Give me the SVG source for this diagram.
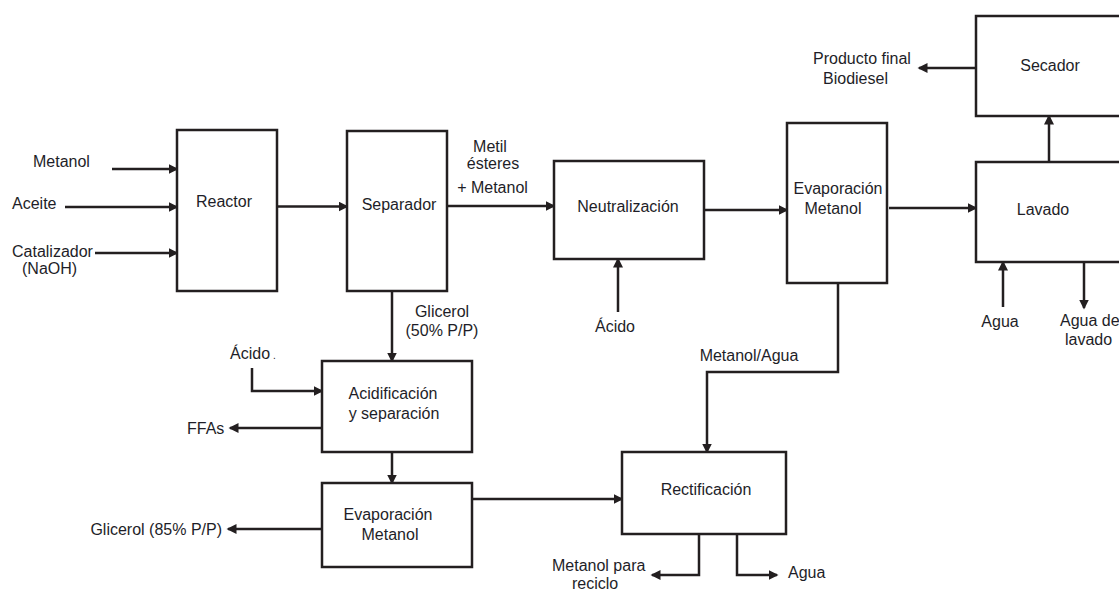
<svg xmlns="http://www.w3.org/2000/svg" width="1119" height="592" viewBox="0 0 1119 592">
<defs>
<style>
.box{fill:#fff;stroke:#231f20;stroke-width:2.5}
.ln{fill:none;stroke:#231f20;stroke-width:2.5;marker-end:url(#ah)}
text{font-family:"Liberation Sans",Arial,sans-serif;font-size:16px;fill:#1e1e28}
.c{text-anchor:middle}
.e{text-anchor:end}
</style>
<marker id="ah" markerUnits="userSpaceOnUse" markerWidth="12" markerHeight="12" refX="8.5" refY="5" orient="auto">
<path d="M0,0 L10,5 L0,10 z" fill="#231f20"/>
</marker>
</defs>
<rect width="1119" height="592" fill="#fff"/>
<g id="connectors">
<path class="ln" d="M112,169 H177"/>
<path class="ln" d="M65,207 H177"/>
<path class="ln" d="M95,253 H177"/>
<path class="ln" d="M277,206.5 H347"/>
<path class="ln" d="M447,206 H554"/>
<path class="ln" d="M392,291 V361"/>
<path class="ln" d="M704,210 H787"/>
<path class="ln" d="M618,312 V259"/>
<path class="ln" d="M889,208 H976"/>
<path class="ln" d="M1049,162 V116"/>
<path class="ln" d="M976,68 H919"/>
<path class="ln" d="M1003,307 V262"/>
<path class="ln" d="M1084,262 V308"/>
<path class="ln" d="M838,283 V372 H707 V452"/>
<path class="ln" d="M252,368 V391 H322"/>
<path class="ln" d="M322,428 H230"/>
<path class="ln" d="M392,452 V483"/>
<path class="ln" d="M322,529 H228"/>
<path class="ln" d="M472,499 H622"/>
<path class="ln" d="M699,534 V575 H652"/>
<path class="ln" d="M737,534 V575 H777"/>
</g>
<g id="reactor">
<rect class="box" x="177" y="130" width="100" height="161"/>
<text class="c" x="224" y="207">Reactor</text>
</g>
<g id="separador">
<rect class="box" x="347" y="131" width="100" height="160"/>
<text class="c" x="399" y="210">Separador</text>
</g>
<g id="neutralizacion">
<rect class="box" x="554" y="161" width="150" height="98"/>
<text class="c" x="628" y="211.5">Neutralización</text>
</g>
<g id="evaporacion1">
<rect class="box" x="787" y="123" width="100" height="160"/>
<text class="c" x="838" y="194">Evaporación</text>
<text class="c" x="833" y="213.5">Metanol</text>
</g>
<g id="lavado">
<rect class="box" x="976" y="162" width="200" height="100"/>
<text class="c" x="1043" y="215">Lavado</text>
</g>
<g id="secador">
<rect class="box" x="976" y="16" width="200" height="100"/>
<text class="c" x="1050" y="70.5">Secador</text>
</g>
<g id="acidificacion">
<rect class="box" x="322" y="361" width="150" height="91"/>
<text class="c" x="393" y="399">Acidificación</text>
<text class="c" x="394" y="419">y separación</text>
</g>
<g id="evaporacion2">
<rect class="box" x="322" y="483" width="150" height="84"/>
<text class="c" x="388" y="520">Evaporación</text>
<text class="c" x="390" y="540">Metanol</text>
</g>
<g id="rectificacion">
<rect class="box" x="622" y="452" width="164" height="82"/>
<text class="c" x="706" y="495">Rectificación</text>
</g>
<g id="labels">
<text x="33" y="167">Metanol</text>
<text x="12" y="209">Aceite</text>
<text x="12" y="256.5">Catalizador</text>
<text x="22" y="274">(NaOH)</text>
<text class="c" x="490" y="151.5">Metil</text>
<text class="c" x="493" y="169">ésteres</text>
<text class="c" x="492.5" y="193">+ Metanol</text>
<text class="c" x="442" y="316.5">Glicerol</text>
<text class="c" x="442" y="336">(50% P/P)</text>
<text class="c" x="615" y="331.5">Ácido</text>
<text x="813" y="64">Producto final</text>
<text x="823" y="84">Biodiesel</text>
<text class="c" x="1000" y="326.5">Agua</text>
<text x="1060" y="326">Agua de</text>
<text x="1065" y="345">lavado</text>
<text class="c" x="749" y="360.5">Metanol/Agua</text>
<text x="552" y="570.5">Metanol para</text>
<text x="572" y="589">reciclo</text>
<text x="788" y="578">Agua</text>
<text x="230" y="359">Ácido<tspan font-size="10" dx="3">.</tspan></text>
<text x="187" y="433.5">FFAs</text>
<text class="e" x="222" y="535">Glicerol (85% P/P)</text>
</g>
</svg>
